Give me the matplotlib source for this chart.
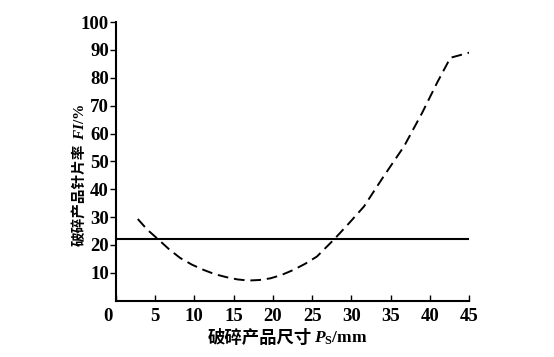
import matplotlib.pyplot as plt
import matplotlib.transforms as mtransforms

# values
size_mm = [2.8, 4.0, 5.4, 6.8, 8.2, 9.7, 11.2, 12.6, 14.1, 15.5, 16.9, 18.3, 19.7, 21.1,
           22.6, 24.1, 25.6, 27.8, 29.7, 31.6, 34.1, 36.7, 39.0, 40.9, 42.6, 45.2]
flaky_pct = [29.3, 25.5, 22.0, 18.4, 15.3, 12.9, 11.0, 9.5, 8.4, 7.6, 7.2, 7.4, 8.0, 9.2,
             11.0, 13.2, 15.8, 22.0, 27.8, 33.8, 44.6, 55.4, 67.4, 78.2, 87.2, 89.2]
limit_x = [0, 45]
limit_y = [22, 22]
xticks = [0, 5, 10, 15, 20, 25, 30, 35, 40, 45]
yticks = [10, 20, 30, 40, 50, 60, 70, 80, 90, 100]

plt.rcParams['font.family'] = ['Liberation Serif', 'Noto Sans CJK SC']
plt.rcParams['mathtext.fontset'] = 'custom'
plt.rcParams['mathtext.it'] = 'Liberation Serif:italic:bold'
plt.rcParams['mathtext.rm'] = 'Liberation Serif:bold'

W, H = 554, 357
fig = plt.figure(figsize=(W / 100, H / 100), dpi=100)
ax = fig.add_axes([0.209, 0.158, 0.638, 0.780])

ax.plot(limit_x, limit_y, color='black', lw=1.5)
ax.plot(size_mm, flaky_pct, color='black', lw=1.4, linestyle=(0, (5.5, 3.0)))

ax.set_xlim(0, 45)
ax.set_ylim(0, 100)
ax.set_xticks(xticks)
ax.set_yticks(yticks)
ax.tick_params(axis='x', direction='in', length=4, width=1, pad=5, labelsize=13.5)
ax.tick_params(axis='y', direction='out', length=4, width=1, pad=1, labelsize=13.5)
for lab in ax.get_xticklabels() + ax.get_yticklabels():
    lab.set_fontweight('bold')
# the "0" sits a little left of the corner in the original
lab0 = ax.xaxis.get_major_ticks()[0].label1
lab0.set_transform(lab0.get_transform() + mtransforms.ScaledTranslation(-8 / 100, 0, fig.dpi_scale_trans))
for s in ['top', 'right']:
    ax.spines[s].set_visible(False)
for s in ['left', 'bottom']:
    ax.spines[s].set_linewidth(1.5)

# axis titles: chinese part and latin part as two texts sharing one baseline
cjk = dict(family='Noto Sans CJK SC', weight='bold')
xl1 = fig.text(208 / W, 1 - 343 / H, '破碎产品尺寸', fontsize=12.5, ha='left', va='baseline', **cjk)
yl1 = fig.text(84 / W, 1 - 246 / H, '破碎产品针片率', fontsize=10.5, ha='left', va='baseline',
               rotation=90, rotation_mode='anchor', **cjk)
fig.canvas.draw()
r = fig.canvas.get_renderer()
bx = xl1.get_window_extent(r)
by = yl1.get_window_extent(r)
fig.text(bx.x1 / W + 0.004, 1 - 343 / H, '$P_{\\mathrm{S}}$/mm', fontsize=12.5,
         ha='left', va='baseline', weight='bold')
fig.text(84 / W, by.y1 / H + 0.01, '$FI$/%', fontsize=11, ha='left', va='baseline',
         rotation=90, rotation_mode='anchor', weight='bold')

fig.savefig('out.png', dpi=100)
